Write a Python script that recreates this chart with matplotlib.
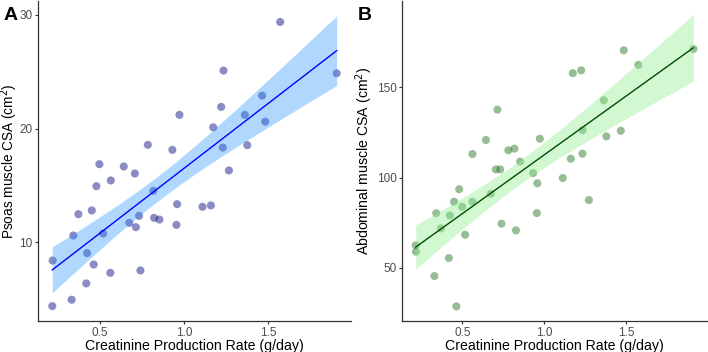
import numpy as np
import matplotlib
matplotlib.use("Agg")
import matplotlib.pyplot as plt

plt.rcParams['font.family'] = ['Liberation Sans', 'DejaVu Sans']

# panel A: creatinine production rate vs psoas CSA
cpr_a = [1.571, 1.234, 1.907, 1.464, 1.220, 0.972, 1.361, 1.173, 1.482, 0.784,
         0.930, 1.230, 1.375, 0.496, 0.641, 0.707, 1.266, 0.564, 0.478, 0.817,
         0.958, 1.109, 1.159, 0.371, 0.451, 0.732, 0.821, 0.853, 0.674, 0.713,
         0.954, 0.341, 0.518, 0.423, 0.218, 0.462, 0.561, 0.740, 0.418, 0.331,
         0.216]
psoas = [29.36, 25.09, 24.85, 22.89, 21.90, 21.20, 21.20, 20.11, 20.61, 18.57,
         18.13, 18.33, 18.54, 16.87, 16.67, 16.05, 16.32, 15.44, 14.94, 14.53,
         13.36, 13.13, 13.25, 12.48, 12.81, 12.33, 12.16, 12.01, 11.72, 11.34,
         11.54, 10.61, 10.78, 9.06, 8.41, 8.06, 7.33, 7.54, 6.40, 4.97,
         4.41]

# panel B: creatinine production rate vs abdominal CSA
cpr_b = [1.484, 1.909, 1.573, 1.173, 1.224, 1.362, 0.713, 1.234, 1.378, 1.466,
         0.643, 0.972, 0.561, 0.780, 0.817, 1.161, 1.232, 0.852, 0.704, 0.730,
         0.931, 1.112, 0.957, 0.480, 0.673, 0.449, 0.561, 0.498, 1.271, 0.340,
         0.423, 0.954, 0.368, 0.738, 0.826, 0.516, 0.215, 0.216, 0.417, 0.329,
         0.463]
abdominal = [170.5, 171.2, 162.4, 157.8, 159.4, 142.8, 137.6, 126.3, 122.8, 125.9,
             120.8, 121.5, 113.0, 115.1, 116.0, 110.4, 113.2, 108.8, 104.5, 104.5,
             102.5, 99.7, 96.8, 93.5, 91.0, 86.6, 86.6, 83.8, 87.5, 80.2,
             79.0, 80.3, 71.8, 74.4, 70.7, 68.3, 62.4, 58.9, 55.4, 45.4,
             28.6]


def fit_ci(x, y, n_pts=80, tval=2.0227):
    x = np.asarray(x)
    y = np.asarray(y)
    b, a = np.polyfit(x, y, 1)
    xs = np.linspace(x.min(), x.max(), n_pts)
    ys = a + b * xs
    resid = y - (a + b * x)
    n = len(x)
    s = np.sqrt(np.sum(resid**2) / (n - 2))
    se = s * np.sqrt(1 / n + (xs - x.mean())**2 / np.sum((x - x.mean())**2))
    return xs, ys, ys - tval * se, ys + tval * se


def panel(ax, x, y, pt_col, pt_alpha, band_col, band_alpha, line_col, ylabel, ticks):
    ax.scatter(x, y, s=34, color=pt_col, alpha=pt_alpha, edgecolors='none', zorder=2)
    xs, ys, lo, hi = fit_ci(x, y)
    ax.fill_between(xs, lo, hi, color=band_col, alpha=band_alpha, linewidth=0, zorder=3)
    ax.plot(xs, ys, color=line_col, lw=1.0, zorder=4)
    for s in ['top', 'right']:
        ax.spines[s].set_visible(False)
    for s in ['left', 'bottom']:
        ax.spines[s].set_color('#333333')
        ax.spines[s].set_linewidth(0.9)
    ax.set_xticks([0.5, 1.0, 1.5])
    ax.set_xticklabels(['0.5', '1.0', '1.5'])
    ax.set_yticks(ticks)
    ax.tick_params(axis='both', labelsize=8.5, colors='#333333', labelcolor='#4d4d4d',
                   length=2.5, width=0.8, pad=1.5)
    ax.set_xlabel('Creatinine Production Rate (g/day)', fontsize=10.2, labelpad=0)
    ax.set_ylabel(ylabel, fontsize=10.2)


fig = plt.figure(figsize=(7.08, 3.52), dpi=100)

ax1 = fig.add_axes([38 / 708, 31 / 352, 313 / 708, 320 / 352])
panel(ax1, cpr_a, psoas, 'navy', 0.45, '#1e90ff', 0.35, '#0000ff',
      'Psoas muscle CSA (cm$^2$)', [10, 20, 30])
ax1.set_xlim(0.131, 1.992)
ax1.set_ylim(3.1, 31.2)
ax1.yaxis.label.set_fontsize(9.8)
ax1.yaxis.set_label_coords(-0.057, 0.5)

ax2 = fig.add_axes([402 / 708, 31 / 352, 305 / 708, 320 / 352])
panel(ax2, cpr_b, abdominal, '#2e7d2e', 0.5, '#90ee90', 0.4, '#004d00',
      'Abdominal muscle CSA (cm$^2$)', [50, 100, 150])
ax2.set_xlim(0.131, 1.992)
ax2.set_ylim(20.5, 197.8)
ax2.yaxis.set_label_coords(-0.089, 0.5)

fig.text(4 / 708, 1 - 15 / 352, 'A', fontsize=14, fontweight='bold', va='center')
fig.text(358 / 708, 1 - 15 / 352, 'B', fontsize=14, fontweight='bold', va='center')

fig.savefig('out.png', dpi=100)
